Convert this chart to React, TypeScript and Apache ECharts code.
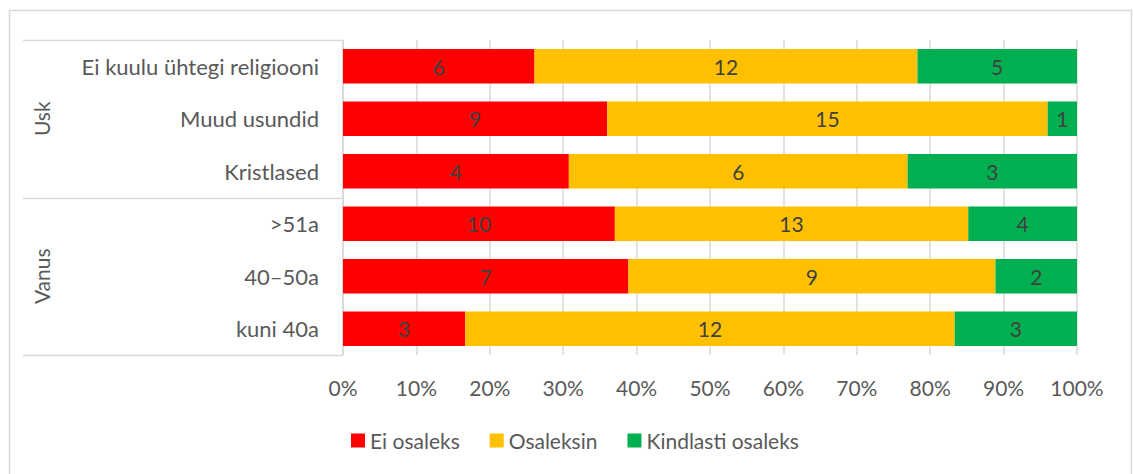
import React, { useEffect, useRef } from "react";
import * as echarts from "echarts";

const categories = ["kuni 40a", "40–50a", ">51a", "Kristlased", "Muud usundid", "Ei kuulu ühtegi religiooni"];
const seriesNames = ["Ei osaleks", "Osaleksin", "Kindlasti osaleks"];
const eiOsaleks = [3, 7, 10, 4, 9, 6];
const osaleksin = [12, 9, 13, 6, 15, 12];
const kindlasti = [3, 2, 4, 3, 1, 5];
const xTicks = [0, 10, 20, 30, 40, 50, 60, 70, 80, 90, 100];
const groups = [
  { name: "Vanus", from: 0, to: 2 },
  { name: "Usk", from: 3, to: 5 },
];

const colors = ["#FF0000", "#FFC000", "#00B050"];

export default function App() {
  const ref = useRef<HTMLDivElement>(null);
  useEffect(() => {
    if (!ref.current) return;
    const chart = echarts.init(ref.current, null, { renderer: "svg" });
    const counts = [eiOsaleks, osaleksin, kindlasti];
    const totals = categories.map((_, i) => counts.reduce((s, c) => s + c[i], 0));
    const pct = counts.map((c) => c.map((v, i) => (v / totals[i]) * 100));

    const gridLeft = 343;
    const gridRight = 1077;
    const gridTop = 40;
    const gridBottom = 355;
    const band = (gridBottom - gridTop) / categories.length;
    const font = "Lato, 'Open Sans', sans-serif";

    const graphics: any[] = [
      {
        type: "rect",
        shape: { x: 9.5, y: 10.5, width: 1122, height: 470 },
        style: { fill: "none", stroke: "#d9d9d9", lineWidth: 1.5 },
        silent: true,
      },
    ];
    const bounds = new Set<number>();
    groups.forEach((g) => {
      bounds.add(g.from);
      bounds.add(g.to + 1);
    });
    bounds.forEach((b) => {
      const y = Math.round(gridBottom - b * band) + 0.5;
      graphics.push({
        type: "line",
        shape: { x1: 23, y1: y, x2: gridLeft, y2: y },
        style: { stroke: "#d9d9d9", lineWidth: 1.5 },
        silent: true,
      });
    });
    groups.forEach((g) => {
      const yc = gridBottom - ((g.from + g.to + 1) / 2) * band;
      graphics.push({
        type: "text",
        x: 41,
        y: yc,
        rotation: Math.PI / 2,
        style: {
          text: g.name,
          fill: "#595959",
          fontSize: 21,
          fontFamily: font,
          align: "center",
          verticalAlign: "middle",
        },
        silent: true,
      });
    });

    chart.setOption({
      animation: false,
      textStyle: { fontFamily: font },
      grid: {
        left: gridLeft,
        right: 1133 - gridRight,
        top: gridTop,
        bottom: 474 - gridBottom,
        containLabel: false,
      },
      legend: {
        data: seriesNames,
        left: 346,
        top: 425,
        icon: "rect",
        itemWidth: 14,
        itemHeight: 14,
        itemGap: 30,
        textStyle: { color: "#595959", fontSize: 21, fontFamily: font },
      },
      xAxis: {
        type: "value",
        min: xTicks[0],
        max: xTicks[xTicks.length - 1],
        interval: xTicks[1] - xTicks[0],
        axisLine: { show: false },
        axisTick: { show: false },
        splitLine: { show: true, lineStyle: { color: "#d9d9d9", width: 1.5 } },
        axisLabel: {
          formatter: "{value}%",
          color: "#595959",
          fontSize: 21,
          margin: 22,
          fontFamily: font,
        },
      },
      yAxis: {
        type: "category",
        data: categories,
        axisLine: { show: true, lineStyle: { color: "#d9d9d9", width: 1.5 } },
        axisTick: { show: false },
        axisLabel: { color: "#595959", fontSize: 22, margin: 24, fontFamily: font },
      },
      graphic: graphics,
      series: seriesNames.map((name, si) => ({
        name,
        type: "bar",
        stack: "total",
        barWidth: "66%",
        data: pct[si],
        itemStyle: { color: colors[si] },
        label: {
          show: true,
          position: "inside",
          color: "#404040",
          fontSize: 21,
          fontFamily: font,
          formatter: (p: any) => String(counts[si][p.dataIndex]),
        },
      })),
    });
    return () => chart.dispose();
  }, []);
  return (
    <div
      ref={ref}
      style={{ position: "absolute", left: 0, top: 0, width: 1133, height: 474, background: "#fff" }}
    />
  );
}
